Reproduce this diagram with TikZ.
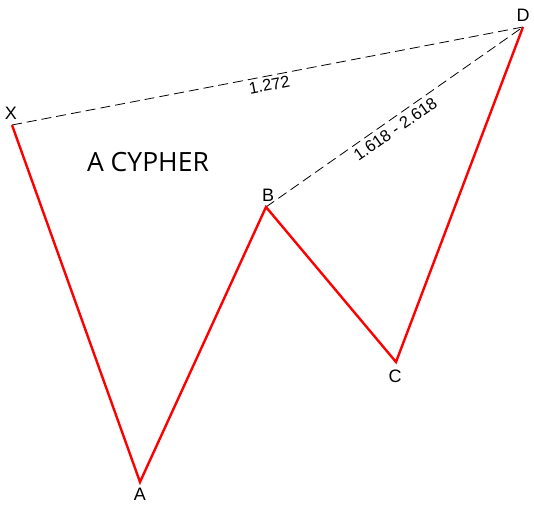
\documentclass[tikz,border=0pt]{standalone}
\usepackage{fontspec}
\setmainfont{Liberation Sans}
\newfontfamily\titlefont{Open Sans}
\begin{document}
\begin{tikzpicture}[x=1pt,y=-1pt,
  leg/.style={draw=red,line width=2.4pt,line join=miter},
  ratio/.style={draw=black,line width=0.8pt,dash pattern=on 10pt off 5pt},
  ptlabel/.style={font=\fontsize{18}{20}\selectfont,inner sep=1pt},
  rlabel/.style={font=\fontsize{16.5}{18}\selectfont,inner sep=3pt,sloped}]
\useasboundingbox (0,0) rectangle (534,510);
\coordinate (X) at (12,125);
\coordinate (A) at (140,482);
\coordinate (B) at (266,207);
\coordinate (C) at (396,362);
\coordinate (D) at (523,27);
\draw[ratio] (X) -- node[rlabel,below,pos=0.5] {1.272} (D);
\draw[ratio] (B) -- node[rlabel,below,pos=0.48,inner sep=4pt] {1.618 - 2.618} (D);
\draw[leg] (X) -- (A) -- (B) -- (C) -- (D);
\node[ptlabel] (lX) at (11,113) {X};
\node[ptlabel] (lA) at (140,494) {A};
\node[ptlabel] (lB) at (268,195) {B};
\node[ptlabel] (lC) at (395,376) {C};
\node[ptlabel] (lD) at (523,15) {D};
\node[font=\titlefont\fontsize{26.5}{30}\selectfont] (title) at (148,162) {A CYPHER};
\end{tikzpicture}
\end{document}
